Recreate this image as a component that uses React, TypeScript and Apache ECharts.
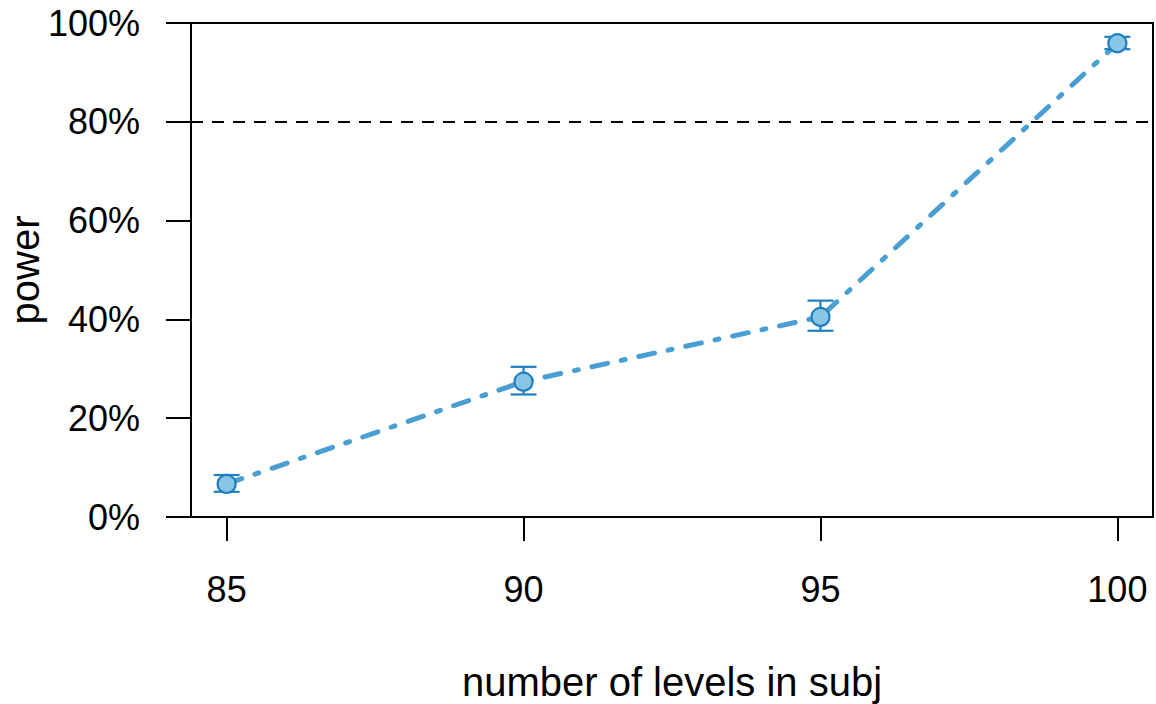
import React, { useEffect, useRef } from "react";
import * as echarts from "echarts";

const levels = [85, 90, 95, 100];
const power = [0.067, 0.274, 0.405, 0.959];
const lower = [0.051, 0.248, 0.377, 0.947];
const upper = [0.085, 0.304, 0.438, 0.972];
const xTicks = [85, 90, 95, 100];
const threshold = 0.8;
const xTitle = "number of levels in subj";
const yTitle = "power";

const FONT = "'Liberation Sans', Arial, Helvetica, sans-serif";

export default function App() {
  const ref = useRef<HTMLDivElement>(null);
  useEffect(() => {
    if (!ref.current) return;
    const chart = echarts.init(ref.current, null, { renderer: "svg" });
    const pts = levels.map((x, i) => [x, power[i]]);
    const errs = levels.map((x, i) => [x, lower[i], upper[i]]);
    chart.setOption({
      animation: false,
      backgroundColor: "#ffffff",
      textStyle: { fontFamily: FONT },
      grid: {
        left: 191,
        right: 3,
        top: 23,
        bottom: 187,
        show: true,
        borderColor: "#000",
        borderWidth: 2,
        containLabel: false,
        outerBoundsMode: "none",
      },
      graphic: [
        {
          type: "text",
          x: 25,
          y: 270,
          rotation: Math.PI / 2,
          style: {
            text: yTitle,
            fontSize: 40,
            fontFamily: FONT,
            fill: "#000",
            align: "center",
            verticalAlign: "middle",
          },
        },
      ],
      xAxis: {
        type: "value",
        min: 84.4,
        max: 100.6,
        name: xTitle,
        nameLocation: "middle",
        nameGap: 145,
        nameTextStyle: { fontSize: 40, color: "#000", fontFamily: FONT },
        splitLine: { show: false },
        axisLine: { show: true, onZero: false, lineStyle: { color: "#000", width: 2 } },
        axisTick: {
          show: true,
          length: 24,
          customValues: xTicks,
          lineStyle: { color: "#000", width: 2 },
        },
        axisLabel: {
          customValues: xTicks,
          fontSize: 36,
          color: "#000",
          margin: 54,
          fontFamily: FONT,
        },
      },
      yAxis: {
        type: "value",
        min: 0,
        max: 1,
        interval: 0.2,
        splitLine: { show: false },
        axisLine: { show: true, lineStyle: { color: "#000", width: 2 } },
        axisTick: { show: true, length: 25, lineStyle: { color: "#000", width: 2 } },
        axisLabel: {
          fontSize: 36,
          color: "#000",
          margin: 51,
          fontFamily: FONT,
          formatter: (v: number) => `${Math.round(v * 100)}%`,
        },
      },
      series: [
        {
          type: "line",
          data: pts,
          symbol: "none",
          z: 1,
          lineStyle: {
            color: "#4a9fd2",
            width: 5,
            type: [16, 14, 4, 14],
            cap: "round",
          },
          markLine: {
            silent: true,
            symbol: "none",
            label: { show: false },
            lineStyle: { color: "#000", width: 2, type: [12, 9] },
            data: [{ yAxis: threshold }],
          },
        },
        {
          type: "custom",
          z: 2,
          data: errs,
          renderItem: (params: any, api: any) => {
            const x = api.value(0);
            const lo = api.coord([x, api.value(1)]);
            const hi = api.coord([x, api.value(2)]);
            const hw = 13;
            const style = { stroke: "#1f7fbf", lineWidth: 2.2 };
            return {
              type: "group",
              children: [
                { type: "line", shape: { x1: lo[0], y1: lo[1], x2: hi[0], y2: hi[1] }, style },
                { type: "line", shape: { x1: lo[0] - hw, y1: lo[1], x2: lo[0] + hw, y2: lo[1] }, style },
                { type: "line", shape: { x1: hi[0] - hw, y1: hi[1], x2: hi[0] + hw, y2: hi[1] }, style },
              ],
            };
          },
        },
        {
          type: "scatter",
          z: 3,
          data: pts,
          symbol: "circle",
          symbolSize: 18,
          itemStyle: { color: "#89c6e6", borderColor: "#1f7fbf", borderWidth: 2.2, opacity: 1 },
        },
      ],
    });
    return () => chart.dispose();
  }, []);
  return (
    <div
      ref={ref}
      style={{ position: "fixed", left: 0, top: 0, width: 1156, height: 704, background: "#fff" }}
    />
  );
}
